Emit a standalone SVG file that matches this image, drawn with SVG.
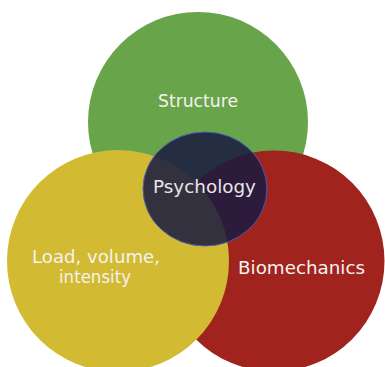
<svg xmlns="http://www.w3.org/2000/svg" width="385" height="367" viewBox="0 0 385 367">
  <style>
    .lbl { font-family: "DejaVu Sans", "Liberation Sans", sans-serif; font-size: 17.5px; fill: #f4f2f0; text-anchor: middle; }
  </style>
  <rect width="385" height="367" fill="#ffffff"/>
  <g id="structure">
    <circle cx="198" cy="122" r="110" fill="#68a44a"/>
    <text class="lbl" x="198" y="107" textLength="80" lengthAdjust="spacingAndGlyphs">Structure</text>
  </g>
  <g id="biomechanics">
    <circle cx="274" cy="261" r="110.5" fill="#a0231e"/>
  </g>
  <g id="load">
    <circle cx="118" cy="261" r="111" fill="#d2bb32"/>
    <text class="lbl" x="96" y="263" textLength="128" lengthAdjust="spacingAndGlyphs">Load, volume,</text>
    <text class="lbl" x="95" y="283" textLength="72" lengthAdjust="spacingAndGlyphs">intensity</text>
  </g>
  <g id="biomechanics-label">
    <text class="lbl" x="301.5" y="274" textLength="127" lengthAdjust="spacingAndGlyphs">Biomechanics</text>
  </g>
  <g id="psychology">
    <ellipse cx="205" cy="189" rx="62" ry="57" fill="#1a1a40" fill-opacity="0.86" stroke="#4c5cb0" stroke-width="1"/>
    <text class="lbl" x="204.5" y="193" textLength="103" lengthAdjust="spacingAndGlyphs" style="fill:#e6e6e8">Psychology</text>
  </g>
  <g id="connectors"/>
</svg>
